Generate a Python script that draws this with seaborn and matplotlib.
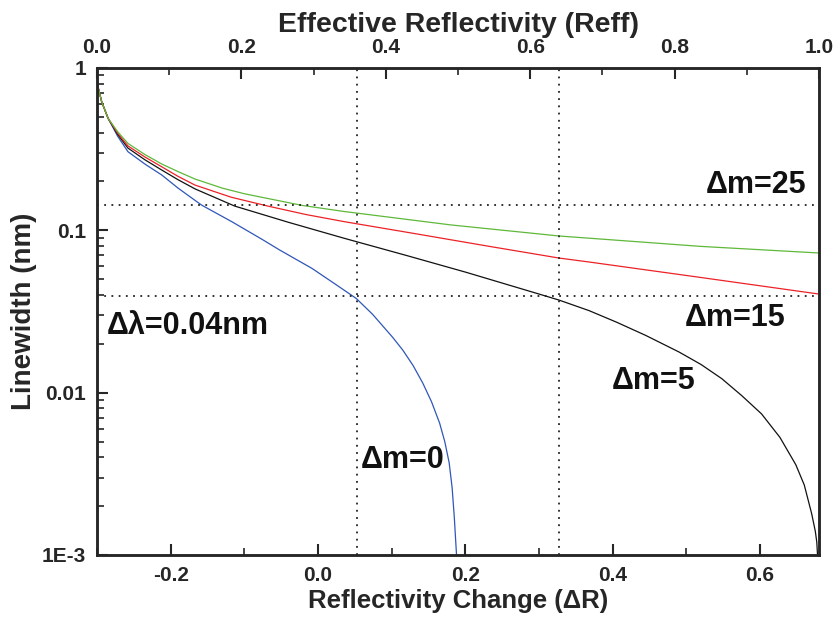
import numpy as np
import pandas as pd
import matplotlib
matplotlib.use("Agg")
import matplotlib.pyplot as plt
import matplotlib.ticker as mticker
import seaborn as sns

# ---- data ----
dR_m0 = [-0.300, -0.2937, -0.285, -0.272, -0.258, -0.235, -0.212, -0.19, -0.167, -0.158,
         -0.117, -0.076, -0.052, -0.008, 0.029, 0.052, 0.074, 0.101, 0.115, 0.129,
         0.142, 0.154, 0.165, 0.172, 0.178, 0.182, 0.185, 0.1865, 0.188]
lw_m0 = [0.81, 0.62, 0.49, 0.38, 0.305, 0.256, 0.219, 0.182, 0.153, 0.143,
         0.113, 0.088, 0.0756, 0.0582, 0.0448, 0.038, 0.0304, 0.022, 0.0183, 0.0147,
         0.0115, 0.0088, 0.0065, 0.0050, 0.0037, 0.0026, 0.0017, 0.0013, 0.001]

dR_m5 = [-0.300, -0.2937, -0.285, -0.272, -0.258, -0.235, -0.212, -0.19, -0.167, -0.113,
         -0.04, 0.036, 0.12, 0.2, 0.300, 0.327, 0.368, 0.405, 0.445,
         0.490, 0.520, 0.548, 0.575, 0.602, 0.627, 0.6485, 0.660, 0.670, 0.675, 0.677, 0.678]
lw_m5 = [0.81, 0.62, 0.49, 0.39, 0.321, 0.272, 0.235, 0.205, 0.180, 0.141,
         0.112, 0.0892, 0.070, 0.0553, 0.0405, 0.0372, 0.032, 0.0272, 0.0225,
         0.0178, 0.0149, 0.0122, 0.0096, 0.0074, 0.0053, 0.0036, 0.0027, 0.0018, 0.0014, 0.0012, 0.001]

dR_m15 = [-0.300, -0.2937, -0.285, -0.272, -0.258, -0.235, -0.212, -0.19, -0.167, -0.118,
          -0.068, -0.016, 0.036, 0.13, 0.23, 0.327, 0.368, 0.52, 0.680]
lw_m15 = [0.81, 0.62, 0.49, 0.397, 0.331, 0.283, 0.246, 0.215, 0.190, 0.160,
          0.141, 0.125, 0.113, 0.0957, 0.080, 0.0675, 0.0638, 0.0512, 0.0405]

dR_m25 = [-0.300, -0.2937, -0.285, -0.272, -0.258, -0.235, -0.212, -0.19, -0.167, -0.13,
          -0.1, -0.022, 0.036, 0.18, 0.327, 0.52, 0.680]
lw_m25 = [0.81, 0.62, 0.49, 0.405, 0.343, 0.293, 0.256, 0.230, 0.207, 0.182,
          0.168, 0.1425, 0.1305, 0.108, 0.0923, 0.0796, 0.0725]

series_names = ["Δm=0", "Δm=5", "Δm=15", "Δm=25"]
series_colors = ["#2f56b8", "#111111", "#ec2227", "#5fb83a"]

hlines = [0.143, 0.0394]
vlines = [0.0523, 0.327]

bottom_ticks = [-0.2, 0.0, 0.2, 0.4, 0.6]
top_ticks = [0.0, 0.2, 0.4, 0.6, 0.8, 1.0]
y_ticks = [1, 0.1, 0.01, 0.001]
y_tick_labels = ["1", "0.1", "0.01", "1E-3"]

# ---- build table ----
frames = []
for name, xs, ys in zip(series_names, [dR_m0, dR_m5, dR_m15, dR_m25],
                        [lw_m0, lw_m5, lw_m15, lw_m25]):
    frames.append(pd.DataFrame({"dR": xs, "lw": ys, "series": name}))
df = pd.concat(frames, ignore_index=True)

sns.set_style("ticks")
plt.rcParams["font.family"] = ["Liberation Sans", "DejaVu Sans"]
plt.rcParams["font.weight"] = "bold"

fig = plt.figure(figsize=(8.4, 6.17), dpi=100)
ax = fig.add_axes([0.1155, 0.1005, 0.8595, 0.7893])

sns.lineplot(data=df, x="dR", y="lw", hue="series", palette=dict(zip(series_names, series_colors)),
             hue_order=series_names, sort=False, estimator=None, linewidth=0.9, legend=False, ax=ax)

ax.set_yscale("log")
ax.set_xlim(-0.3, 0.68)
ax.set_ylim(1e-3, 1)

for h in hlines:
    ax.axhline(h, color="#222222", linestyle=(0, (1, 3)), linewidth=1.3)
for v in vlines:
    ax.axvline(v, color="#222222", linestyle=(0, (1, 3)), linewidth=1.3)

ax.xaxis.set_major_locator(mticker.FixedLocator(bottom_ticks))
ax.xaxis.set_minor_locator(mticker.MultipleLocator(0.1))
ax.xaxis.set_major_formatter(mticker.FormatStrFormatter("%.1f"))
ax.yaxis.set_major_locator(mticker.FixedLocator(y_ticks))
ax.yaxis.set_major_formatter(mticker.FixedFormatter(y_tick_labels))
ax.yaxis.set_minor_locator(mticker.LogLocator(base=10, subs=np.arange(2, 10)))
ax.yaxis.set_minor_formatter(mticker.NullFormatter())

ax.tick_params(axis="both", which="major", direction="in", length=8, width=1.5,
               labelsize=15, pad=8)
ax.tick_params(axis="both", which="minor", direction="in", length=5, width=1.2)
ax.tick_params(axis="y", which="both", right=False)
ax.tick_params(axis="x", which="both", top=False)
for sp in ax.spines.values():
    sp.set_linewidth(1.8)
    sp.set_visible(True)
for lab in ax.get_xticklabels() + ax.get_yticklabels():
    lab.set_fontweight("bold")

ax.set_xlabel("Reflectivity Change (ΔR)", fontsize=18.5, fontweight="bold", labelpad=3)
ax.set_ylabel("Linewidth (nm)", fontsize=20, fontweight="bold", labelpad=3)

ax2 = ax.twiny()
ax2.set_xlim(0, 1)
ax2.xaxis.set_major_locator(mticker.FixedLocator(top_ticks))
ax2.xaxis.set_minor_locator(mticker.MultipleLocator(0.1))
ax2.xaxis.set_major_formatter(mticker.FormatStrFormatter("%.1f"))
ax2.tick_params(axis="x", which="major", direction="in", length=8, width=1.5,
                labelsize=15, pad=8)
ax2.tick_params(axis="x", which="minor", direction="in", length=5, width=1.2)
for lab in ax2.get_xticklabels():
    lab.set_fontweight("bold")
ax2.set_xlabel("Effective Reflectivity (Reff)", fontsize=20.5, fontweight="bold", labelpad=4)
for sp in ax2.spines.values():
    sp.set_linewidth(1.8)

# annotations
ann_kw = dict(fontsize=22, fontweight="bold", ha="center", va="center", color="#111111")
ax.text(0.594, 0.19, "Δm=25", **ann_kw)
ax.text(0.566, 0.0288, "Δm=15", **ann_kw)
ax.text(0.456, 0.0118, "Δm=5", **ann_kw)
ax.text(0.115, 0.00384, "Δm=0", **ann_kw)
ax.text(-0.177, 0.0257, "Δλ=0.04nm", **ann_kw)

fig.savefig("out.png", dpi=100)
